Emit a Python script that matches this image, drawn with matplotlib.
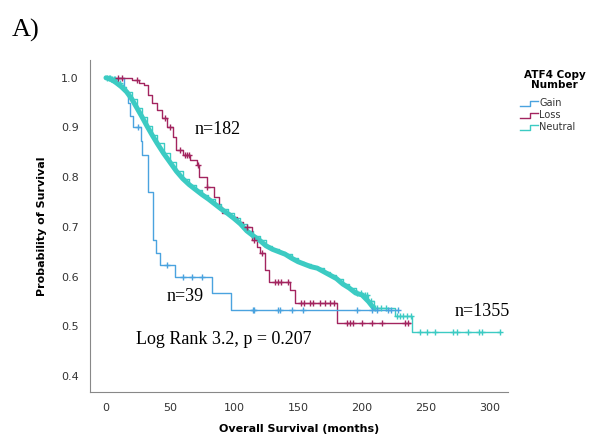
"""
Kaplan-Meier plot: overall survival by ATF4 copy number.
"""

import numpy as np
import matplotlib.pyplot as plt
from matplotlib.lines import Line2D

# Step points (months, survival after the step)
gain_t = [0, 14, 17, 19, 21, 27, 28, 33, 37, 39, 42, 54, 83, 98]
gain_s = [1.0, 0.974, 0.949, 0.923, 0.90, 0.872, 0.845, 0.77, 0.674, 0.648, 0.624, 0.60, 0.567, 0.533]
gain_end = 228
gain_cens = [25, 48, 60, 67, 75, 115, 116, 134, 136, 145, 154, 196, 208, 212, 220, 223, 228]

loss_t = [0, 20, 26, 30, 33, 36, 40, 44, 48, 52, 55, 60, 66, 71, 73, 79, 84, 88, 91, 97,
          102, 107, 114, 118, 120, 124, 127, 144, 148, 180.5]
loss_s = [1.0, 0.995, 0.99, 0.986, 0.966, 0.95, 0.935, 0.92, 0.90, 0.88, 0.855, 0.845,
          0.835, 0.825, 0.80, 0.78, 0.76, 0.74, 0.727, 0.72, 0.71, 0.70, 0.674, 0.66,
          0.648, 0.614, 0.59, 0.573, 0.547, 0.507]
loss_end = 237.5
loss_cens = [9, 12.5, 24, 46, 50, 58, 62, 63, 65, 72, 79, 110, 116, 122, 132, 134, 137,
             142, 152, 155, 159, 162, 167, 171, 175, 178, 188, 190.5, 193, 200, 208,
             215.5, 233.5, 236]

neut_t = [0, 4, 8, 12, 16, 20, 24, 28, 32, 36, 40, 45, 50, 55, 60, 65, 70, 75, 80, 85,
          90, 95, 100, 105, 110, 115, 120, 125, 130, 135, 140, 145, 150, 155, 160, 165,
          170, 175, 180, 185, 190, 195, 200, 205, 209, 226, 239]
neut_s = [1.0, 0.997, 0.99, 0.982, 0.972, 0.958, 0.94, 0.922, 0.903, 0.885, 0.868,
          0.848, 0.83, 0.812, 0.797, 0.785, 0.775, 0.765, 0.756, 0.746, 0.736, 0.727,
          0.717, 0.706, 0.692, 0.682, 0.673, 0.662, 0.655, 0.65, 0.645, 0.637, 0.63,
          0.625, 0.62, 0.617, 0.61, 0.603, 0.596, 0.585, 0.577, 0.567, 0.563, 0.55,
          0.537, 0.52, 0.489]
neut_end = 308
neut_cens = [1, 2, 3, 4, 5, 6, 7, 9, 11, 13, 196, 199, 202, 204, 207, 210, 212, 215,
             219, 227, 230, 232, 235, 238, 245, 251, 257, 271, 274, 283, 291, 294, 308]
neut_dense_until = 209  # censor marks pile up into a thick band up to here

groups = ["Gain", "Loss", "Neutral"]
colors = {"Gain": "#4aa3df", "Loss": "#a3245f", "Neutral": "#3ccbc3"}

curves = {
    "Gain": (gain_t, gain_s, gain_end, gain_cens),
    "Loss": (loss_t, loss_s, loss_end, loss_cens),
    "Neutral": (neut_t, neut_s, neut_end, neut_cens),
}

fig = plt.figure(figsize=(6.04, 4.34), dpi=100)
ax = fig.add_axes([0.149, 0.097, 0.692, 0.765])

for g in ["Neutral", "Loss", "Gain"]:
    t, s, end, cens = curves[g]
    tt = np.append(t, end)
    ss = np.append(s, s[-1])
    ax.step(tt, ss, where="post", color=colors[g], lw=1.0, zorder=2)
    idx = np.searchsorted(t, cens, side="right") - 1
    cy = np.array(s)[idx]
    ax.plot(cens, cy, ls="none", marker="+", ms=5, mew=1.0, color=colors[g], zorder=3)

# thick band of overlapping censor marks on the Neutral curve
nt = np.array(neut_t)
ns = np.array(neut_s)
keep = nt <= neut_dense_until
ax.plot(nt[keep], ns[keep], color=colors["Neutral"], lw=3.6, zorder=2,
        solid_capstyle="round")

ax.set_xlim(-12.5, 314)
ax.set_ylim(0.368, 1.036)
ax.set_xticks([0, 50, 100, 150, 200, 250, 300])
ax.set_yticks([0.4, 0.5, 0.6, 0.7, 0.8, 0.9, 1.0])
ax.set_yticklabels(["0.4", "0.5", "0.6", "0.7", "0.8", "0.9", "1.0"])
ax.tick_params(length=0, labelsize=8, colors="#333333", pad=8)
for side in ["top", "right"]:
    ax.spines[side].set_visible(False)
for side in ["left", "bottom"]:
    ax.spines[side].set_color("#888888")
    ax.spines[side].set_linewidth(0.8)

ax.set_xlabel("Overall Survival (months)", fontsize=8, fontweight="bold", labelpad=8)
ax.set_ylabel("Probability of Survival", fontsize=8, fontweight="bold", labelpad=10)

serif = "Liberation Serif"
ax.text(87, 0.895, "n=182", family=serif, fontsize=13, ha="center", va="center")
ax.text(62, 0.56, "n=39", family=serif, fontsize=13, ha="center", va="center")
ax.text(294, 0.529, "n=1355", family=serif, fontsize=13, ha="center", va="center")
ax.text(92, 0.473, "Log Rank 3.2, p = 0.207", family=serif, fontsize=13,
        ha="center", va="center")

fig.text(0.02, 0.93, "A)", family=serif, fontsize=19, ha="left", va="center")

# Legend drawn by hand: title and small step icons
fig.text(0.918, 0.815, "ATF4 Copy\nNumber", fontsize=7.5, fontweight="bold",
         ha="center", va="center", linespacing=0.95)
for i, g in enumerate(groups):
    yc = 1 - (103 + 12 * i) / 434
    x0, x1 = 520 / 604, 538 / 604
    xm = 530 / 604
    dy = 2.5 / 434
    fig.add_artist(Line2D([x0, xm, xm, x1], [yc - dy, yc - dy, yc + dy, yc + dy],
                          transform=fig.transFigure, color=colors[g], lw=1.0))
    fig.text(539 / 604, yc, g, fontsize=7, ha="left", va="center", color="#333333")

fig.savefig("out.png", dpi=100)
